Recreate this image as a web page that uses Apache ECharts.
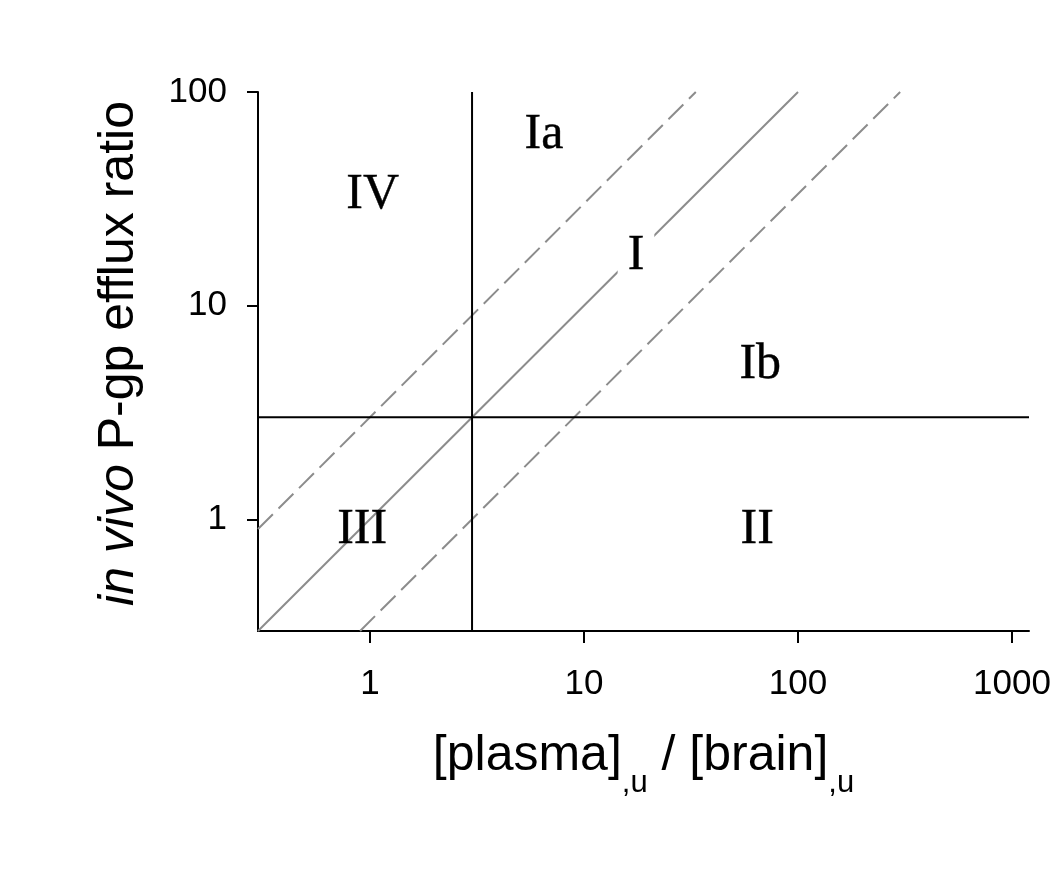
<!DOCTYPE html>
<html>
<head>
<meta charset="utf-8">
<script src="https://cdn.jsdelivr.net/npm/echarts@6/dist/echarts.min.js"></script>
<style>
  html, body { margin: 0; padding: 0; background: #ffffff; }
  #chart { width: 1058px; height: 896px; }
</style>
</head>
<body>
<div id="chart"></div>
<script>
// ---- data ----
const xRange = [0.3, 1200];
const yRange = [0.3, 100];
const xTicks = [1, 10, 100, 1000];
const yTicks = [1, 10, 100];
const thresholdX = 3;
const thresholdY = 3;
const unityLine = [[0.3, 0.3], [100, 100]];
const upperLine = [[0.3, 0.9], [33.3, 100]];
const lowerLine = [[0.9, 0.3], [300, 100]];
const regionNames = ['Ia', 'IV', 'I', 'Ib', 'III', 'II'];
const regionX = [6.5, 1.03, 17.5, 66.6, 0.92, 64.5];
const regionY = [63, 33, 17.1, 5.28, 0.89, 0.89];

// ---- chart ----
const chart = echarts.init(document.getElementById('chart'), null, { renderer: 'canvas' });
const sans = 'Liberation Sans, Arial, sans-serif';
const serif = 'Liberation Serif, Times New Roman, serif';
const gray = '#8c8c8c';

const regionData = regionNames.map((n, i) => {
  const item = { name: n, value: [regionX[i], regionY[i]] };
  if (n === 'I') {
    item.label = { backgroundColor: '#ffffff', padding: [4, 10] };
  }
  return item;
});

const fmt = v => String(Math.round(v));

chart.setOption({
  animation: false,
  backgroundColor: '#ffffff',
  grid: { left: 258, right: 29, top: 92, bottom: 265, containLabel: false, outerBoundsMode: 'none' },
  xAxis: {
    type: 'log',
    min: xRange[0],
    max: xRange[1],
    splitLine: { show: false },
    axisLine: { show: true, lineStyle: { color: '#000', width: 2 } },
    axisTick: { show: true, length: 12, lineStyle: { color: '#000', width: 2 }, customValues: xTicks },
    axisLabel: { customValues: xTicks, formatter: fmt, fontFamily: sans, fontSize: 35, color: '#000', margin: 36 },
    minorTick: { show: false },
    name: '{m|[plasma]}{s|,u}{m| / [brain]}{s|,u}',
    nameLocation: 'middle',
    nameGap: 118,
    nameTextStyle: {
      rich: {
        m: { fontFamily: sans, fontSize: 50, color: '#000', lineHeight: 50, padding: [0, 0, 18, 0], verticalAlign: 'bottom' },
        s: { fontFamily: sans, fontSize: 31, color: '#000', lineHeight: 31, verticalAlign: 'bottom' }
      }
    }
  },
  yAxis: {
    type: 'log',
    min: yRange[0],
    max: yRange[1],
    splitLine: { show: false },
    axisLine: { show: true, lineStyle: { color: '#000', width: 2 } },
    axisTick: { show: true, length: 11, lineStyle: { color: '#000', width: 2 }, customValues: yTicks },
    axisLabel: { customValues: yTicks, formatter: fmt, fontFamily: sans, fontSize: 35, color: '#000', margin: 31 },
    minorTick: { show: false },
    name: '{i|in vivo}{n| P-gp efflux ratio}',
    nameLocation: 'middle',
    nameRotate: 90,
    nameGap: 114,
    nameTextStyle: {
      padding: [0, 0, 0, 16],
      rich: {
        i: { fontFamily: sans, fontSize: 50, fontStyle: 'italic', color: '#000' },
        n: { fontFamily: sans, fontSize: 50, color: '#000' }
      }
    }
  },
  series: [
    {
      type: 'line', data: unityLine, symbol: 'none', silent: true,
      lineStyle: { color: gray, width: 2 }
    },
    {
      type: 'line', data: upperLine, symbol: 'none', silent: true,
      lineStyle: { color: gray, width: 2, type: [21, 8] }
    },
    {
      type: 'line', data: lowerLine, symbol: 'none', silent: true,
      lineStyle: { color: gray, width: 2, type: [21, 8] }
    },
    {
      type: 'line', data: [[thresholdX, yRange[0]], [thresholdX, yRange[1]]], symbol: 'none', silent: true,
      lineStyle: { color: '#000', width: 2 }
    },
    {
      type: 'line', data: [[xRange[0], thresholdY], [xRange[1], thresholdY]], symbol: 'none', silent: true,
      lineStyle: { color: '#000', width: 2 }
    },
    {
      type: 'scatter', data: regionData, symbolSize: 0, silent: true, z: 10,
      itemStyle: { color: '#000', opacity: 1 },
      label: {
        show: true, position: 'inside', formatter: '{b}',
        fontFamily: serif, fontSize: 50, color: '#000',
        textBorderWidth: 0.4, textBorderColor: '#000', textShadowBlur: 0
      }
    }
  ]
});
</script>
</body>
</html>
